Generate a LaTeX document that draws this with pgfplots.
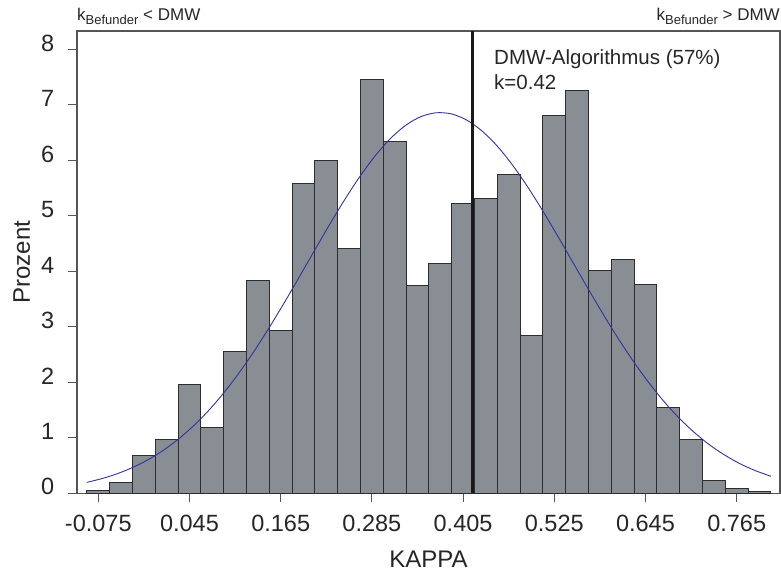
\documentclass[border=0pt]{standalone}
\usepackage{pgfplots}
\pgfplotsset{compat=1.18}
\usepackage{fontspec}
\setmainfont{Liberation Sans}
\definecolor{barfill}{RGB}{136,142,148}
\definecolor{baredge}{RGB}{45,45,45}
\definecolor{fitblue}{RGB}{50,50,160}
\definecolor{framec}{RGB}{85,85,85}
\begin{document}
\begin{tikzpicture}
\path[use as bounding box] (0,0) rectangle (781bp,576bp);
\begin{axis}[
  at={(77bp,82.7bp)}, anchor=south west,
  scale only axis, width=703bp, height=462.3bp,
  xmin=-0.1030, xmax=0.8220, ymin=0, ymax=8.33,
  axis line style={color=framec, line width=1.2bp},
  tick pos=left, tick align=outside, major tick length=9bp,
  tick style={color=framec, line width=1bp},
  minor tick num=0,
  xtick={-0.075,0.045,0.165,0.285,0.405,0.525,0.645,0.765},
  xticklabels={-0.075,0.045,0.165,0.285,0.405,0.525,0.645,0.765},
  ytick={0,1,2,3,4,5,6,7,8},
  yticklabels={0,1,2,3,4,5,6,7,8},
  /pgf/number format/assume math mode=true,
  ticklabel style={font=\fontsize{23.5bp}{28bp}\selectfont, inner sep=0pt, text=black!85},
  xticklabel style={anchor=base, yshift=-29.4bp},
  yticklabel style={anchor=base east, xshift=-13.7bp, yshift=-1.7bp},
  xlabel={KAPPA},
  ylabel={Prozent},
  xlabel style={at={(axis description cs:0.5,-0.16007)}, anchor=base, inner sep=0pt, font=\fontsize{24bp}{28bp}\selectfont, text=black!85},
  ylabel style={at={(axis description cs:-0.0669,0.5)}, anchor=base, rotate=0, inner sep=0pt, font=\fontsize{24bp}{28bp}\selectfont, text=black!85},
  clip=false,
]
\addplot[ybar, bar width=0.03, bar shift=0pt, fill=barfill, draw=baredge, line width=1bp]
coordinates {
(-0.075,0.05) (-0.045,0.20) (-0.015,0.68) (0.015,0.97) (0.045,1.96)
(0.075,1.19) (0.105,2.55) (0.135,3.83) (0.165,2.94) (0.195,5.59)
(0.225,5.99) (0.255,4.41) (0.285,7.46) (0.315,6.34) (0.345,3.75)
(0.375,4.14) (0.405,5.22) (0.435,5.32) (0.465,5.75) (0.495,2.84)
(0.525,6.81) (0.555,7.26) (0.585,4.02) (0.615,4.21) (0.645,3.77)
(0.675,1.55) (0.705,0.97) (0.735,0.23) (0.765,0.08) (0.795,0.03)
};
\addplot[color=fitblue, line width=0.9bp, smooth, mark=none]
coordinates {
(-0.09,0.197) (-0.07,0.266) (-0.05,0.353) (-0.03,0.464) (-0.01,0.601)
(0.01,0.769) (0.03,0.972) (0.05,1.211) (0.07,1.489) (0.09,1.807)
(0.11,2.166) (0.13,2.560) (0.15,2.988) (0.17,3.440) (0.19,3.911)
(0.21,4.387) (0.23,4.858) (0.25,5.308) (0.27,5.724) (0.29,6.092)
(0.31,6.400) (0.33,6.636) (0.35,6.790) (0.37,6.857) (0.39,6.835)
(0.41,6.723) (0.43,6.527) (0.45,6.255) (0.47,5.915) (0.49,5.521)
(0.51,5.085) (0.53,4.624) (0.55,4.149) (0.57,3.674) (0.59,3.211)
(0.61,2.770) (0.63,2.359) (0.65,1.982) (0.67,1.643) (0.69,1.345)
(0.71,1.087) (0.73,0.866) (0.75,0.682) (0.77,0.529) (0.79,0.406)
(0.81,0.307)
};
\addplot[color=black!90, line width=3bp, mark=none]
coordinates {(0.418,0) (0.418,8.33)};
\end{axis}
\node[anchor=base west, inner sep=0pt, text=black!85] at (77bp,555.3bp)
  {\fontsize{17bp}{20bp}\selectfont k\raisebox{-4bp}{\fontsize{13bp}{15bp}\selectfont Befunder} {<} DMW};
\node[anchor=base east, inner sep=0pt, text=black!85] at (780bp,555.3bp)
  {\fontsize{17bp}{20bp}\selectfont k\raisebox{-4bp}{\fontsize{13bp}{15bp}\selectfont Befunder} {>} DMW};
\node[anchor=base west, inner sep=0pt, text=black!85] at (494bp,511.7bp)
  {\fontsize{20.5bp}{25bp}\selectfont DMW-Algorithmus (57\%)};
\node[anchor=base west, inner sep=0pt, text=black!85] at (494bp,486.7bp)
  {\fontsize{20.5bp}{25bp}\selectfont k=0.42};
\end{tikzpicture}
\end{document}
